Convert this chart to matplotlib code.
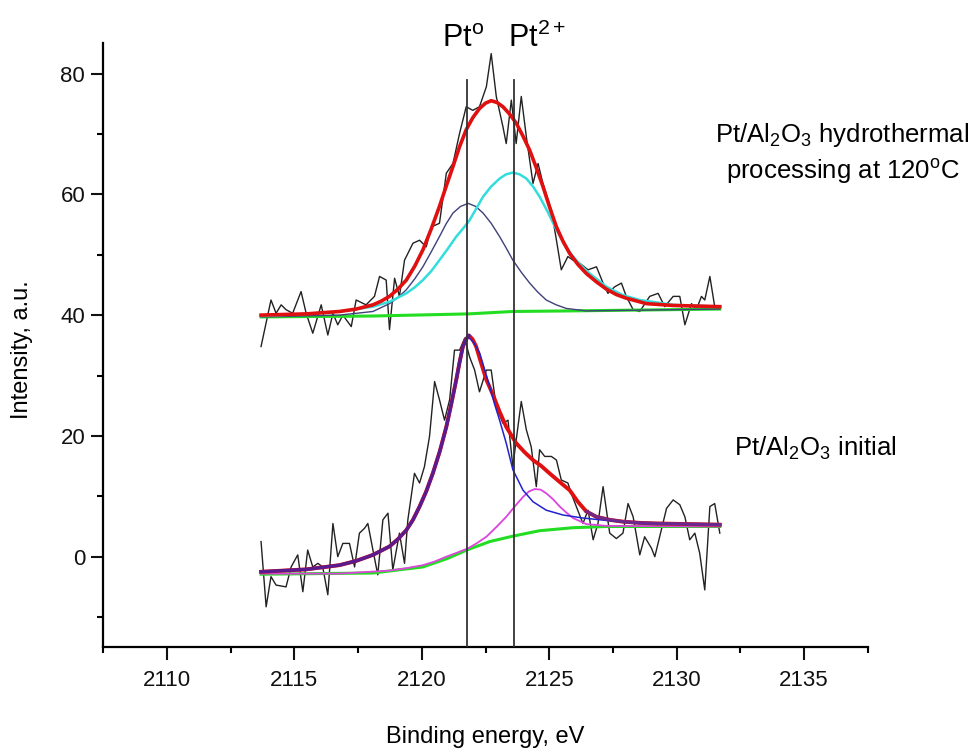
import numpy as np
import matplotlib
matplotlib.use("Agg")
import matplotlib.pyplot as plt

plt.rcParams['font.family'] = ['Liberation Sans', 'DejaVu Sans']
plt.rcParams['mathtext.fontset'] = 'custom'
plt.rcParams['mathtext.rm'] = 'Liberation Sans'
plt.rcParams['mathtext.it'] = 'Liberation Sans:italic'

# ---------------- upper spectrum (hydrothermal) ----------------
up_x = [2113.69, 2114.08, 2114.28, 2114.48, 2114.67, 2114.93, 2115.26, 2115.46, 2115.72, 2116.05,
        2116.31, 2116.51, 2116.70, 2116.90, 2117.23, 2117.42, 2117.81, 2118.14, 2118.34, 2118.60,
        2118.73, 2118.93, 2119.12, 2119.32, 2119.65, 2119.91, 2120.17, 2120.37, 2120.69, 2120.96,
        2121.22, 2121.48, 2121.74, 2122.00, 2122.26, 2122.53, 2122.72, 2122.92, 2123.18, 2123.31,
        2123.51, 2123.70, 2123.90, 2124.10, 2124.36, 2124.56, 2124.75, 2125.08, 2125.28, 2125.47,
        2125.73, 2125.93, 2126.19, 2126.52, 2126.85, 2127.11, 2127.30, 2127.57, 2127.83, 2128.02,
        2128.29, 2128.55, 2128.94, 2129.27, 2129.53, 2129.86, 2130.12, 2130.32, 2130.58, 2130.77,
        2130.97, 2131.10, 2131.30, 2131.49, 2131.69]
up_y = [34.8, 42.5, 40.3, 41.7, 40.9, 40.3, 43.9, 40.3, 37.0, 41.7,
        36.7, 40.3, 38.4, 40.0, 38.1, 42.5, 41.7, 43.1, 46.4, 45.8,
        37.6, 46.1, 43.1, 49.1, 51.9, 52.4, 51.3, 54.6, 55.2, 63.5,
        65.1, 70.1, 74.5, 73.9, 74.5, 77.8, 83.3, 76.2, 71.2, 68.4,
        75.6, 68.4, 76.2, 69.5, 61.8, 65.1, 61.8, 57.4, 52.4, 47.5,
        49.7, 49.1, 48.6, 47.5, 48.0, 45.3, 43.6, 44.7, 45.3, 43.1,
        40.9, 40.6, 43.1, 43.6, 41.4, 43.1, 43.1, 38.4, 41.9, 40.9,
        43.1, 42.5, 46.4, 41.4, 41.4]

up_env_x = [2113.69, 2115.46, 2116.77, 2117.42, 2118.08, 2118.40, 2118.73, 2119.06, 2119.39, 2119.72,
            2120.04, 2120.37, 2120.69, 2120.96, 2121.22, 2121.48, 2121.74, 2122.00, 2122.26, 2122.50,
            2122.72, 2122.95, 2123.18, 2123.44, 2123.70, 2123.96, 2124.23, 2124.49, 2124.75, 2125.01,
            2125.28, 2125.54, 2125.80, 2126.12, 2126.45, 2126.85, 2127.24, 2127.63, 2128.02, 2128.81,
            2129.86, 2131.69]
up_env_y = [40.0, 40.2, 40.6, 41.0, 41.7, 42.3, 43.1, 44.3, 45.8, 48.1,
            50.8, 54.3, 58.0, 61.4, 64.6, 67.9, 70.7, 72.7, 74.2, 75.1,
            75.5, 75.2, 74.5, 73.3, 71.8, 69.7, 67.3, 64.4, 61.3, 57.9,
            54.6, 52.2, 50.2, 48.4, 46.9, 45.5, 44.3, 43.4, 42.8, 41.9,
            41.6, 41.4]

up_pt2_x = [2113.69, 2115.46, 2116.77, 2118.08, 2118.73, 2119.39, 2119.72, 2120.04, 2120.37, 2120.69,
            2121.02, 2121.35, 2121.61, 2121.87, 2122.13, 2122.40, 2122.72, 2123.05, 2123.30, 2123.57,
            2123.84, 2124.10, 2124.36, 2124.62, 2124.95, 2125.28, 2125.60, 2125.93, 2126.25, 2126.58,
            2127.24, 2127.89, 2128.55, 2129.86, 2131.69]
up_pt2_y = [39.85, 40.2, 40.6, 41.4, 42.2, 43.6, 44.6, 45.8, 47.3, 49.1,
            51.0, 53.0, 54.3, 55.7, 57.6, 59.6, 61.3, 62.6, 63.3, 63.6,
            63.3, 62.6, 61.3, 59.6, 57.0, 54.1, 51.7, 49.7, 48.2, 46.9,
            44.7, 43.3, 42.5, 41.7, 41.4]

up_pt0_x = [2113.69, 2116.77, 2118.08, 2118.73, 2119.06, 2119.39, 2119.72, 2120.04, 2120.37, 2120.69,
            2120.95, 2121.22, 2121.52, 2121.82, 2122.11, 2122.40, 2122.72, 2123.05, 2123.31, 2123.57,
            2123.90, 2124.23, 2124.55, 2124.88, 2125.27, 2125.67, 2126.45, 2131.69]
up_pt0_y = [39.7, 40.0, 40.6, 41.9, 42.9, 44.2, 46.0, 48.0, 50.5, 53.0,
            55.1, 56.9, 58.0, 58.5, 58.0, 56.9, 55.2, 53.0, 51.1, 49.1,
            47.1, 45.3, 43.8, 42.5, 41.7, 41.1, 40.7, 41.0]

up_bg_x = [2113.69, 2118.08, 2121.82, 2123.57, 2125.93, 2131.69]
up_bg_y = [39.7, 39.85, 40.2, 40.6, 40.7, 41.0]

# ---------------- lower spectrum (initial) ----------------
lo_x = [2113.69, 2113.89, 2114.08, 2114.28, 2114.67, 2114.87, 2115.13, 2115.33, 2115.52, 2115.72,
        2115.92, 2116.11, 2116.31, 2116.51, 2116.70, 2116.90, 2117.16, 2117.36, 2117.55, 2117.75,
        2117.88, 2118.08, 2118.27, 2118.47, 2118.67, 2118.86, 2119.12, 2119.32, 2119.45, 2119.71,
        2119.91, 2120.10, 2120.30, 2120.50, 2120.69, 2120.89, 2121.09, 2121.28, 2121.48, 2121.68,
        2121.87, 2122.07, 2122.26, 2122.53, 2122.72, 2122.92, 2123.18, 2123.38, 2123.57, 2123.70,
        2123.90, 2124.10, 2124.29, 2124.49, 2124.62, 2124.82, 2125.08, 2125.28, 2125.47, 2125.73,
        2125.86, 2126.06, 2126.32, 2126.52, 2126.72, 2126.91, 2127.11, 2127.37, 2127.63, 2127.89,
        2128.09, 2128.29, 2128.55, 2128.74, 2129.01, 2129.14, 2129.33, 2129.60, 2129.86, 2130.12,
        2130.32, 2130.51, 2130.71, 2130.90, 2131.10, 2131.30, 2131.49, 2131.69]
lo_y = [2.5, -8.3, -3.3, -4.7, -5.0, -1.7, 0.3, -5.8, 1.1, -1.7,
        -1.1, -1.7, -6.3, 5.5, 0.0, 2.2, 2.2, -1.7, 3.9, 4.7,
        5.5, 1.1, -3.0, 6.1, 7.2, -2.2, 3.9, -1.1, 6.1, 13.8,
        12.2, 14.9, 19.9, 29.0, 26.0, 22.6, 26.0, 34.2, 34.2, 36.2,
        33.1, 30.9, 27.3, 30.9, 30.9, 24.8, 22.1, 22.6, 14.9, 19.3,
        25.7, 21.0, 18.2, 11.6, 17.7, 16.6, 16.6, 16.0, 12.7, 12.2,
        10.5, 8.3, 5.5, 7.7, 2.8, 5.5, 11.6, 3.9, 3.0, 3.9,
        8.8, 6.6, 0.3, 3.3, 1.4, 0.0, 3.3, 8.0, 9.4, 8.6,
        6.6, 2.8, 3.9, 0.6, -5.5, 8.3, 8.8, 3.9]

lo_env_x = [2113.69, 2115.46, 2116.77, 2117.42, 2118.08, 2118.73, 2119.06, 2119.39, 2119.65, 2119.91,
            2120.17, 2120.43, 2120.70, 2120.96, 2121.15, 2121.35, 2121.48, 2121.61, 2121.73, 2121.85,
            2121.99, 2122.13, 2122.33, 2122.53, 2122.79, 2123.05, 2123.31, 2123.70, 2124.03, 2124.36,
            2124.69, 2125.01, 2125.40, 2125.80, 2126.12, 2126.45, 2126.85, 2127.37, 2127.89, 2128.55,
            2129.20, 2131.69]
lo_env_y = [-2.5, -2.1, -1.4, -0.7, 0.3, 1.7, 2.9, 4.4, 6.1, 8.3,
            10.8, 13.8, 17.4, 21.5, 25.2, 29.3, 32.2, 34.8, 36.0, 36.6,
            36.0, 34.8, 32.0, 29.3, 26.8, 24.0, 21.5, 18.8, 17.3, 16.0,
            15.0, 13.8, 12.4, 11.0, 9.1, 7.5, 6.6, 6.1, 5.8, 5.6,
            5.5, 5.3]

lo_pt0_x = [2113.69, 2115.46, 2116.77, 2117.42, 2118.08, 2118.73, 2119.06, 2119.39, 2119.65, 2119.91,
            2120.17, 2120.43, 2120.70, 2120.96, 2121.15, 2121.35, 2121.48, 2121.61, 2121.73, 2121.85,
            2122.06, 2122.27, 2122.46, 2122.66, 2122.85, 2123.05, 2123.31, 2123.57, 2123.97, 2124.36,
            2124.88, 2125.54, 2126.32, 2127.24, 2128.55, 2131.69]
lo_pt0_y = [-2.5, -2.1, -1.4, -0.7, 0.3, 1.7, 2.9, 4.4, 6.1, 8.3,
            10.8, 13.8, 17.4, 21.5, 25.2, 29.3, 32.2, 34.8, 35.9, 36.3,
            35.3, 33.7, 31.0, 28.2, 25.3, 22.6, 18.8, 14.4, 11.0, 9.1,
            7.7, 6.9, 6.4, 6.0, 5.5, 5.3]

lo_pt2_x = [2113.69, 2116.77, 2118.73, 2119.40, 2120.04, 2120.50, 2120.96, 2121.40, 2121.82, 2122.18,
            2122.53, 2122.92, 2123.31, 2123.64, 2123.97, 2124.20, 2124.43, 2124.66, 2124.88, 2125.15,
            2125.41, 2125.67, 2125.93, 2126.45, 2127.24, 2131.69]
lo_pt2_y = [-2.8, -2.8, -2.3, -1.9, -1.4, -0.8, 0.0, 0.7, 1.4, 2.3,
            3.3, 4.9, 6.6, 8.3, 9.9, 10.8, 11.2, 11.1, 10.5, 9.5,
            8.3, 7.3, 6.4, 5.4, 5.1, 5.0]

lo_bg_x = [2113.69, 2118.08, 2120.04, 2121.00, 2121.82, 2122.66, 2123.57, 2124.62, 2125.93, 2127.24, 2131.69]
lo_bg_y = [-2.9, -2.7, -1.7, -0.3, 1.2, 2.5, 3.4, 4.3, 4.8, 5.0, 5.0]

# peak markers
peak_pos = [2121.78, 2123.6]
peak_top = 79.0

x_ticks = [2110, 2115, 2120, 2125, 2130, 2135]
y_ticks = [0, 20, 40, 60, 80]

fig = plt.figure(figsize=(9.79, 7.56), dpi=100)
ax = fig.add_axes([0.1055, 0.1438, 0.781, 0.7989])

# upper
ax.plot(up_x, up_y, color='#222222', lw=1.0, zorder=2)
ax.plot(up_bg_x, up_bg_y, color='#22dd22', lw=2.2, zorder=3)
ax.plot(up_pt0_x, up_pt0_y, color='#40407a', lw=1.0, zorder=3)
ax.plot(up_pt2_x, up_pt2_y, color='#33dddd', lw=1.8, zorder=4)
ax.plot(up_env_x, up_env_y, color='#e01010', lw=2.6, zorder=5)

# lower
lex = np.array(lo_env_x)
ley = np.array(lo_env_y)
ax.plot(lo_x, lo_y, color='#222222', lw=1.0, zorder=2)
ax.plot(lo_bg_x, lo_bg_y, color='#22dd22', lw=2.2, zorder=3)
ax.plot(lo_pt2_x, lo_pt2_y, color='#dd44dd', lw=1.3, zorder=4)
ax.plot(lex, ley, color='#e01010', lw=2.8, zorder=5)
ax.plot(lo_pt0_x, lo_pt0_y, color='#2222cc', lw=1.1, zorder=6)
mL = lex <= 2121.86
mR = lex >= 2126.4
ax.plot(lex[mL], ley[mL], color='#5a1a90', lw=2.4, zorder=7)
ax.plot(lex[mR], ley[mR], color='#6a2a90', lw=2.4, zorder=7, alpha=0.9)

for p in peak_pos:
    ax.plot([p, p], [-15, peak_top], color='#333333', lw=1.3, zorder=8)

ax.set_xlim(2107.5, 2137.5)
ax.set_ylim(-15, 85)
ax.set_xticks(x_ticks)
ax.set_yticks(y_ticks)
ax.set_xticks(np.arange(2107.5, 2138, 5), minor=True)
ax.set_yticks([-10, 10, 30, 50, 70], minor=True)
for s in ['top', 'right']:
    ax.spines[s].set_visible(False)
for s in ['left', 'bottom']:
    ax.spines[s].set_linewidth(1.6)
ax.tick_params(which='major', direction='out', length=9, width=1.5, labelsize=16, colors='#111111')
ax.tick_params(which='minor', direction='out', length=4.5, width=1.5)
ax.tick_params(axis='x', pad=7)
ax.tick_params(axis='y', pad=4)

fig.text(22/979, 1 - 350/756, 'Intensity, a.u.', rotation=90, ha='center', va='center', fontsize=17)
fig.text(485/979, 1 - 737/756, 'Binding energy, eV', ha='center', va='center', fontsize=17)

fig.text(441.7/979, 1 - 46.7/756, r'Pt$^{\mathrm{o}}$', ha='left', va='baseline', fontsize=22)
fig.text(508/979, 1 - 46.7/756, r'Pt$^{\mathrm{2+}}$', ha='left', va='baseline', fontsize=22)

fig.text(842/979, 1 - 135/756, r'Pt/Al$_{\mathrm{2}}$O$_{\mathrm{3}}$ hydrothermal', ha='center', va='center', fontsize=18.5)
fig.text(843/979, 1 - 172/756, r'processing at 120$^{\mathrm{o}}$C', ha='center', va='center', fontsize=18.5)
fig.text(815/979, 1 - 448/756, r'Pt/Al$_{\mathrm{2}}$O$_{\mathrm{3}}$ initial', ha='center', va='center', fontsize=18.5)

fig.savefig('out.png', dpi=100)
